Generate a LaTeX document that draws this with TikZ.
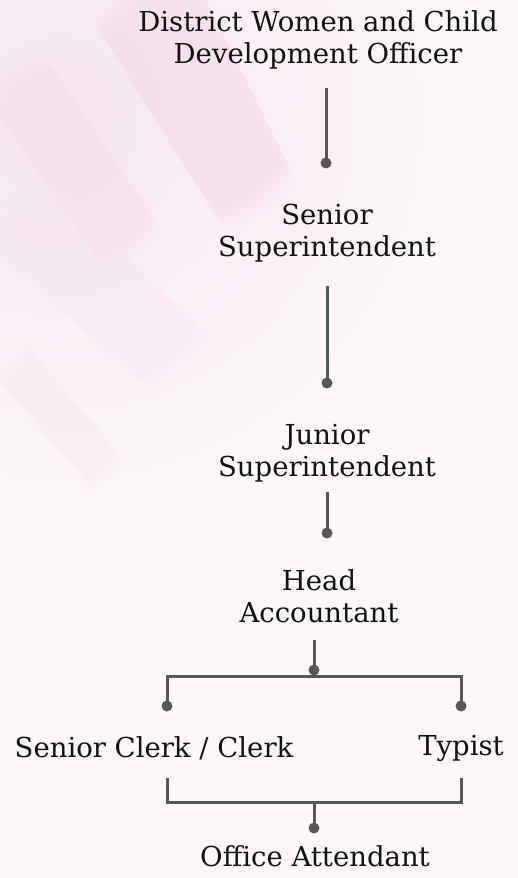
\documentclass[tikz,border=0pt]{standalone}
\usepackage{fontspec}
\setmainfont{DejaVu Serif}
\usetikzlibrary{fadings}
\definecolor{bgbase}{HTML}{FCF8FA}
\definecolor{bgpink}{HTML}{F4D3E2}
\definecolor{bglav}{HTML}{F6E6F2}
\definecolor{linegray}{HTML}{58585A}
\definecolor{txt}{HTML}{121212}
\tikzset{
  post/.style={font=\fontsize{27.5}{32}\selectfont, text=txt, align=center, inner sep=0pt},
  conn/.style={draw=linegray, line width=3pt},
  joint/.style={fill=linegray},
  streak/.style={path fading=circle with fuzzy edge 20 percent, opacity=0.45},
}
\begin{document}
\begin{tikzpicture}[x=1pt,y=1pt]
  % soft background with diagonal pink streaks
  \fill[bgbase] (0,0) rectangle (518,878);
  \begin{scope}
    \clip (0,0) rectangle (518,878);
    \shade[inner color=bglav, outer color=bgbase] (60,760) circle (420);
    \fill[bgpink, streak] (60,910) -- (190,910) -- (320,650) -- (230,640) -- cycle;
    \fill[bgpink, streak, opacity=0.3] (-40,820) -- (40,830) -- (180,620) -- (110,600) -- cycle;
    \fill[bglav, streak] (-30,650) -- (30,720) -- (230,520) -- (170,470) -- cycle;
    \fill[bgpink, streak, opacity=0.2] (-20,520) -- (20,540) -- (140,400) -- (100,380) -- cycle;
  \end{scope}
  \useasboundingbox (0,0) rectangle (518,878);

  % posts
  \node[post] (dwcdo) at (318,838) {District Women and Child\\Development Officer};
  \node[post] (ssup)  at (327,645) {Senior\\Superintendent};
  \node[post] (jsup)  at (327,425) {Junior\\Superintendent};
  \node[post] (hacc)  at (319,282) {Head\\Accountant};
  \node[post] (clerk) at (154,130) {Senior Clerk / Clerk};
  \node[post] (typist) at (461,130) {Typist};
  \node[post] (oatt)  at (315,22) {Office Attendant};

  % connector ends
  \coordinate (a1) at (326,790); \coordinate (b1) at (326,715);
  \coordinate (a2) at (327,592); \coordinate (b2) at (327,495);
  \coordinate (a3) at (327,386); \coordinate (b3) at (327,345);
  \coordinate (a4) at (314,238); \coordinate (b4) at (314,208);
  \coordinate (hl) at (167,201); \coordinate (hr) at (461,201);
  \coordinate (dl) at (167,172); \coordinate (dr) at (461,172);
  \coordinate (ul) at (167,100); \coordinate (ur) at (461,100);
  \coordinate (bl) at (167,75);  \coordinate (br) at (461,75);
  \coordinate (bm) at (314,75);  \coordinate (b5) at (314,50);

  % connectors
  \draw[conn] (a1) -- (b1);
  \draw[conn] (a2) -- (b2);
  \draw[conn] (a3) -- (b3);
  \draw[conn] (a4) -- (b4);
  \draw[conn] (dl) -- (hl) -- (hr) -- (dr);
  \draw[conn] (ul) -- (bl) -- (br) -- (ur);
  \draw[conn] (bm) -- (b5);

  % joints
  \foreach \p in {b1,b2,b3,b4,dl,dr,b5}
    \fill[joint] (\p) circle (5.5);
\end{tikzpicture}
\end{document}
